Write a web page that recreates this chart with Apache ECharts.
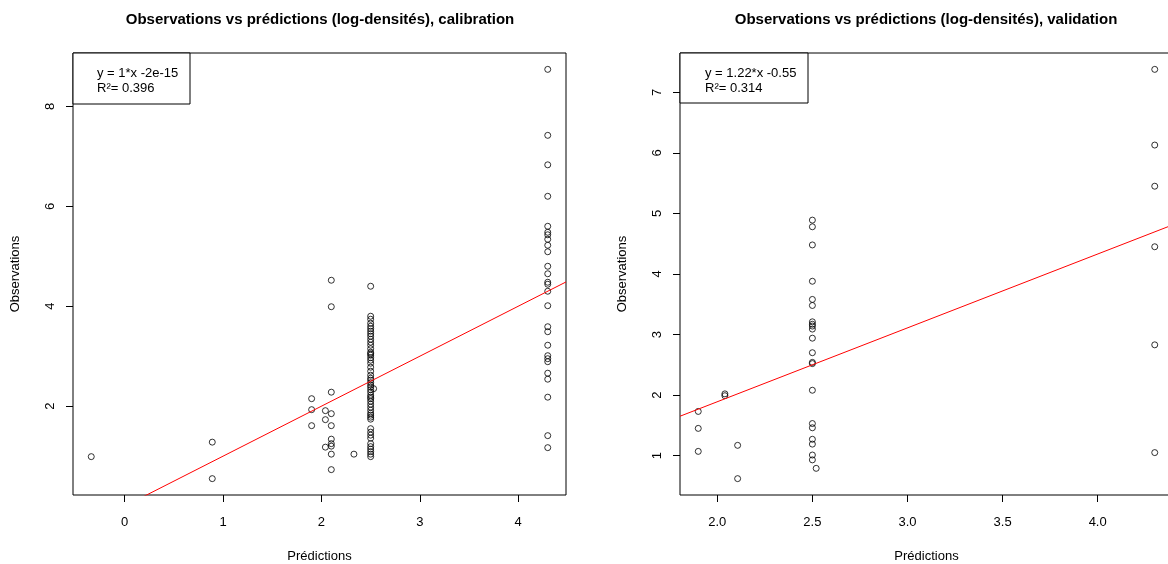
<!DOCTYPE html>
<html>
<head>
<meta charset="utf-8">
<script src="https://cdn.jsdelivr.net/npm/echarts@6/dist/echarts.min.js"></script>
<style>
  html, body { margin: 0; padding: 0; background: #fff; }
</style>
</head>
<body>
<div id="chart" style="width:1168px;height:564px"></div>
<script>
// calibration : prédictions / observations (log-densités)
var calPred = [-0.34, 0.89, 0.89,
  1.90, 1.90, 1.90, 2.04, 2.04, 2.04,
  2.10, 2.10, 2.10, 2.10, 2.10, 2.10, 2.10, 2.10, 2.10, 2.10, 2.33,
  2.50, 2.50, 2.50, 2.50, 2.50, 2.50, 2.50, 2.50, 2.50, 2.50,
  2.50, 2.50, 2.50, 2.50, 2.50, 2.50, 2.50, 2.50, 2.50, 2.50,
  2.50, 2.50, 2.50, 2.50, 2.50, 2.50, 2.50, 2.50, 2.50, 2.50,
  2.50, 2.50, 2.50, 2.50, 2.50, 2.50, 2.50, 2.50, 2.50, 2.50,
  2.50, 2.50, 2.50, 2.50, 2.50, 2.50, 2.50, 2.50, 2.50, 2.50, 2.53,
  4.30, 4.30, 4.30, 4.30, 4.30, 4.30, 4.30, 4.30, 4.30, 4.30,
  4.30, 4.30, 4.30, 4.30, 4.30, 4.30, 4.30, 4.30, 4.30, 4.30,
  4.30, 4.30, 4.30, 4.30, 4.30, 4.30, 4.30];
var calObs = [0.99, 1.28, 0.55,
  2.15, 1.93, 1.61, 1.91, 1.73, 1.18,
  4.52, 3.99, 2.28, 1.85, 1.61, 1.34, 1.25, 1.20, 1.04, 0.73, 1.04,
  4.40, 3.80, 3.74, 3.66, 3.60, 3.55, 3.50, 3.45, 3.40, 3.34,
  3.28, 3.22, 3.15, 3.08, 3.05, 3.02, 2.97, 2.92, 2.86, 2.78,
  2.70, 2.62, 2.56, 2.52, 2.47, 2.42, 2.38, 2.33, 2.28, 2.22,
  2.18, 2.15, 2.10, 2.04, 1.98, 1.92, 1.86, 1.82, 1.78, 1.74,
  1.55, 1.48, 1.42, 1.36, 1.25, 1.19, 1.14, 1.09, 1.04, 0.99, 2.35,
  8.74, 7.42, 6.83, 6.20, 5.60, 5.48, 5.43, 5.34, 5.22, 5.09,
  4.80, 4.65, 4.48, 4.44, 4.30, 4.01, 3.59, 3.49, 3.22, 3.01,
  2.95, 2.89, 2.66, 2.54, 2.18, 1.41, 1.17];

// validation
var valPred = [1.90, 1.90, 1.90, 2.04, 2.04, 2.107, 2.107,
  2.50, 2.50, 2.50, 2.50, 2.50, 2.50, 2.50, 2.50, 2.50, 2.50,
  2.50, 2.50, 2.50, 2.50, 2.50, 2.50, 2.50, 2.50, 2.50, 2.50, 2.50, 2.52,
  4.30, 4.30, 4.30, 4.30, 4.30, 4.30];
var valObs = [1.73, 1.45, 1.07, 2.02, 1.99, 1.17, 0.62,
  4.89, 4.78, 4.48, 3.88, 3.58, 3.48, 3.21, 3.17, 3.14, 3.09,
  2.94, 2.70, 2.54, 2.52, 2.08, 1.53, 1.46, 1.27, 1.19, 1.01, 0.93, 0.79,
  7.38, 6.13, 5.45, 4.45, 2.83, 1.05];

// droites de régression (coefficients affichés)
var calFit = [1, -2e-15];
var valFit = [1.22, -0.55];

var calXTicks = [0, 1, 2, 3, 4];
var calYTicks = [2, 4, 6, 8];
var valXTicks = [2.0, 2.5, 3.0, 3.5, 4.0];
var valYTicks = [1, 2, 3, 4, 5, 6, 7];

var FONT = "'Liberation Sans', Arial, Helvetica, sans-serif";

// étendue façon R (4%)
function range(arr) {
  var lo = Math.min.apply(null, arr), hi = Math.max.apply(null, arr);
  var d = (hi - lo) * 0.04;
  return [lo - d, hi + d];
}
function zip(a, b) {
  return a.map(function (v, i) { return [v, b[i]]; });
}
function fitLine(coef, xr) {
  return [[xr[0], coef[0] * xr[0] + coef[1]], [xr[1], coef[0] * xr[1] + coef[1]]];
}

var calXR = range(calPred), calYR = range(calObs);
var valXR = range(valPred), valYR = range(valObs);

function xAxisOf(idx, r, ticks, fmt) {
  return {
    type: 'value', gridIndex: idx, min: r[0], max: r[1],
    name: 'Prédictions', nameLocation: 'middle', nameGap: 55,
    nameTextStyle: { color: '#000', fontSize: 13, fontFamily: FONT },
    axisLine: { show: false, onZero: false },
    axisTick: { show: true, length: 7, inside: false, customValues: ticks, lineStyle: { color: '#000' } },
    axisLabel: { show: true, customValues: ticks, margin: 21, color: '#000', fontSize: 13, fontFamily: FONT, formatter: fmt },
    splitLine: { show: false }
  };
}
function yAxisOf(idx, r, ticks) {
  return {
    type: 'value', gridIndex: idx, min: r[0], max: r[1],
    name: 'Observations', nameLocation: 'middle', nameGap: 51,
    nameTextStyle: { color: '#000', fontSize: 13, fontFamily: FONT },
    axisLine: { show: false, onZero: false },
    axisTick: { show: true, length: 7, inside: false, customValues: ticks, lineStyle: { color: '#000' } },
    axisLabel: { show: true, customValues: ticks, rotate: 90, margin: 16, color: '#000', fontSize: 13, fontFamily: FONT },
    splitLine: { show: false }
  };
}

var pointStyle = { color: 'rgba(0,0,0,0)', borderColor: '#000', borderWidth: 1 };

var chart = echarts.init(document.getElementById('chart'));
var option = {
  animation: false,
  backgroundColor: '#fff',
  grid: [
    { left: 73, top: 53, width: 493, height: 442, outerBoundsMode: 'none', containLabel: false,
      show: true, borderColor: '#000', borderWidth: 1, backgroundColor: 'transparent' },
    { left: 680, top: 53, width: 493, height: 442, outerBoundsMode: 'none', containLabel: false,
      show: true, borderColor: '#000', borderWidth: 1, backgroundColor: 'transparent' }
  ],
  xAxis: [
    xAxisOf(0, calXR, calXTicks, function (v) { return String(v); }),
    xAxisOf(1, valXR, valXTicks, function (v) { return v.toFixed(1); })
  ],
  yAxis: [
    yAxisOf(0, calYR, calYTicks),
    yAxisOf(1, valYR, valYTicks)
  ],
  series: [
    { type: 'scatter', xAxisIndex: 0, yAxisIndex: 0, data: zip(calPred, calObs),
      symbol: 'circle', symbolSize: 6, itemStyle: pointStyle, silent: true },
    { type: 'line', xAxisIndex: 0, yAxisIndex: 0, data: fitLine(calFit, calXR), clip: true,
      symbol: 'none', lineStyle: { color: '#ff0000', width: 1 }, silent: true },
    { type: 'scatter', xAxisIndex: 1, yAxisIndex: 1, data: zip(valPred, valObs),
      symbol: 'circle', symbolSize: 6, itemStyle: pointStyle, silent: true },
    { type: 'line', xAxisIndex: 1, yAxisIndex: 1, data: fitLine(valFit, valXR), clip: true,
      symbol: 'none', lineStyle: { color: '#ff0000', width: 1 }, silent: true }
  ],
  graphic: [
    { type: 'text', x: 320, y: 12, style: { text: 'Observations vs prédictions (log-densités), calibration',
      font: 'bold 15px ' + FONT, fill: '#000', textAlign: 'center' } },
    { type: 'text', x: 926, y: 12, style: { text: 'Observations vs prédictions (log-densités), validation',
      font: 'bold 15px ' + FONT, fill: '#000', textAlign: 'center' } },
    // encadrés des équations
    { type: 'rect', shape: { x: 73, y: 53, width: 117, height: 51 }, style: { fill: '#fff', stroke: '#000', lineWidth: 1 }, z: 10 },
    { type: 'text', x: 97, y: 66, z: 11, style: { text: 'y = 1*x -2e-15\nR²= 0.396', font: '13px ' + FONT, fill: '#000', lineHeight: 15 } },
    { type: 'rect', shape: { x: 680, y: 53, width: 128, height: 50 }, style: { fill: '#fff', stroke: '#000', lineWidth: 1 }, z: 10 },
    { type: 'text', x: 705, y: 66, z: 11, style: { text: 'y = 1.22*x -0.55\nR²= 0.314', font: '13px ' + FONT, fill: '#000', lineHeight: 15 } }
  ]
};
chart.setOption(option);
</script>
</body>
</html>
